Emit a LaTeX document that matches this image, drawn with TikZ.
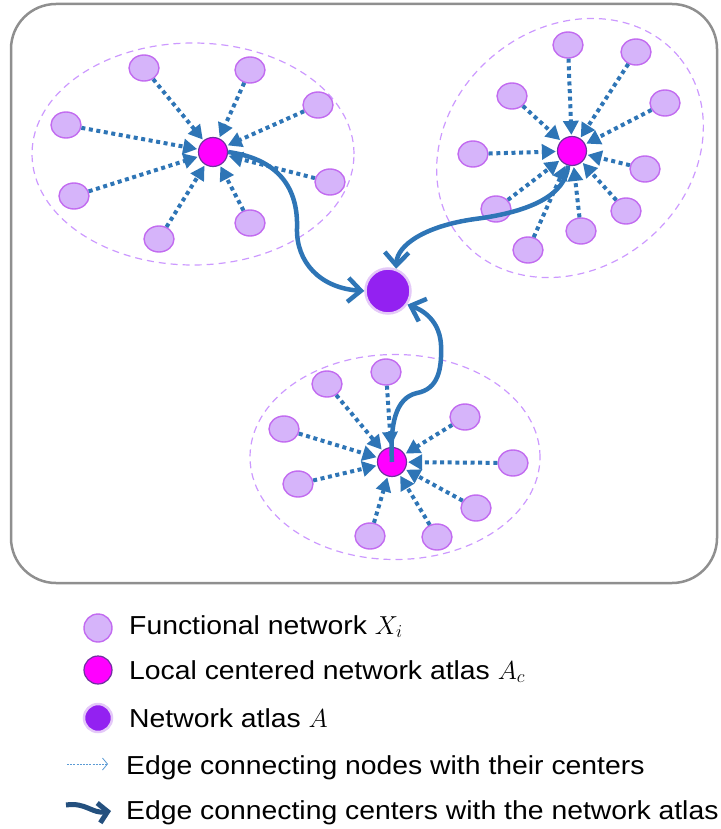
\RequirePackage{fix-cm}
\documentclass[tikz,border=0pt]{standalone}
\usepackage{fontspec}
\setmainfont{Liberation Sans}[FakeStretch=1.09]
\usetikzlibrary{arrows.meta,shapes.geometric}

\definecolor{edgeblue}{HTML}{2E75B6}
\definecolor{satfill}{HTML}{D6B4FA}
\definecolor{satline}{HTML}{C26BF0}
\definecolor{ctrfill}{HTML}{FF00FF}
\definecolor{ctrline}{HTML}{7030A0}
\definecolor{atlasfill}{HTML}{9321F1}
\definecolor{atlasline}{HTML}{E4C9F8}
\definecolor{ringline}{HTML}{CC99FF}
\definecolor{framegray}{HTML}{8F8F8F}
\definecolor{legnavy}{HTML}{24507E}
\definecolor{leglight}{HTML}{5B9BD5}

\begin{document}
\begin{tikzpicture}[x=1pt,y=-1pt,
  satnode/.style={ellipse,draw=satline,fill=satfill,line width=1.4pt,minimum width=30pt,minimum height=26pt,inner sep=0pt},
  ctrnode/.style={circle,draw=ctrline,fill=ctrfill,line width=1.2pt,minimum size=29pt,inner sep=0pt},
  atlasnode/.style={circle,draw=atlasline,fill=atlasfill,line width=2.5pt,minimum size=45pt,inner sep=0pt},
  ringnode/.style={ellipse,draw=ringline,line width=1.2pt,dash pattern=on 7pt off 5pt,inner sep=0pt},
  dotedge/.style={edgeblue,line width=4pt,dash pattern=on 4pt off 3.6pt,shorten >=1pt,-{Triangle[length=14pt,width=15pt]}},
  atlasedge/.style={edgeblue,line width=4.5pt,-{Straight Barb[length=13pt,width=24pt]}},
  legtext/.style={anchor=base west,inner sep=0pt,font=\fontsize{26}{30}\selectfont},
  legdot/.style={leglight,line width=0.8pt,dash pattern=on 2pt off 1.2pt,-{Straight Barb[length=5pt,width=12pt,line width=0.8pt]}},
  legbold/.style={legnavy,line width=5pt,-{Straight Barb[length=9pt,width=20pt]}}]

\useasboundingbox (0,0) rectangle (720,829);

\draw [draw=framegray,line width=2.5pt,rounded corners=45pt] (11,4) rectangle (717,583);


\node [ringnode,minimum width=322pt,minimum height=222pt] (net-ring-1) at (193,154){};
\node [ringnode,minimum width=284pt,minimum height=240pt,rotate=40] (net-ring-2) at (570,148){};
\node [ringnode,minimum width=290pt,minimum height=205pt] (net-ring-3) at (395,457){};

\node [atlasnode] (net-atlas) at (388,291){};



\node [ctrnode] (net-c1) at (213,152){};

\node [satnode] (net-x1-1) at (144,68){};
\draw [dotedge]   (net-x1-1) -- (net-c1);

\node [satnode] (net-x1-2) at (250,70){};
\draw [dotedge]   (net-x1-2) -- (net-c1);

\node [satnode] (net-x1-3) at (318,105){};
\draw [dotedge]   (net-x1-3) -- (net-c1);

\node [satnode] (net-x1-4) at (66,125){};
\draw [dotedge]   (net-x1-4) -- (net-c1);

\node [satnode] (net-x1-5) at (330,182){};
\draw [dotedge]   (net-x1-5) -- (net-c1);

\node [satnode] (net-x1-6) at (74,196){};
\draw [dotedge]   (net-x1-6) -- (net-c1);

\node [satnode] (net-x1-7) at (250,223){};
\draw [dotedge]   (net-x1-7) -- (net-c1);

\node [satnode] (net-x1-8) at (159,239){};
\draw [dotedge]   (net-x1-8) -- (net-c1);



\node [ctrnode] (net-c2) at (572,151){};

\node [satnode] (net-x2-1) at (568,45){};
\draw [dotedge]   (net-x2-1) -- (net-c2);

\node [satnode] (net-x2-2) at (636,52){};
\draw [dotedge]   (net-x2-2) -- (net-c2);

\node [satnode] (net-x2-3) at (512,96){};
\draw [dotedge]   (net-x2-3) -- (net-c2);

\node [satnode] (net-x2-4) at (665,103){};
\draw [dotedge]   (net-x2-4) -- (net-c2);

\node [satnode] (net-x2-5) at (473,154){};
\draw [dotedge]   (net-x2-5) -- (net-c2);

\node [satnode] (net-x2-6) at (645,169){};
\draw [dotedge]   (net-x2-6) -- (net-c2);

\node [satnode] (net-x2-7) at (496,209){};
\draw [dotedge]   (net-x2-7) -- (net-c2);

\node [satnode] (net-x2-8) at (626,211){};
\draw [dotedge]   (net-x2-8) -- (net-c2);

\node [satnode] (net-x2-9) at (581,231){};
\draw [dotedge]   (net-x2-9) -- (net-c2);

\node [satnode] (net-x2-10) at (528,250){};
\draw [dotedge]   (net-x2-10) -- (net-c2);



\node [ctrnode] (net-c3) at (392,462){};

\node [satnode] (net-x3-1) at (386,372){};
\draw [dotedge]   (net-x3-1) -- (net-c3);

\node [satnode] (net-x3-2) at (327,384){};
\draw [dotedge]   (net-x3-2) -- (net-c3);

\node [satnode] (net-x3-3) at (465,417){};
\draw [dotedge]   (net-x3-3) -- (net-c3);

\node [satnode] (net-x3-4) at (284,429){};
\draw [dotedge]   (net-x3-4) -- (net-c3);

\node [satnode] (net-x3-5) at (513,463){};
\draw [dotedge]   (net-x3-5) -- (net-c3);

\node [satnode] (net-x3-6) at (298,484){};
\draw [dotedge]   (net-x3-6) -- (net-c3);

\node [satnode] (net-x3-7) at (476,508){};
\draw [dotedge]   (net-x3-7) -- (net-c3);

\node [satnode] (net-x3-8) at (370,536){};
\draw [dotedge]   (net-x3-8) -- (net-c3);

\node [satnode] (net-x3-9) at (437,537){};
\draw [dotedge]   (net-x3-9) -- (net-c3);



\draw [atlasedge]   (net-c1.east) .. controls (285,160) and (298,195) .. (297,228) .. controls (296,262) and (320,288) .. (net-atlas.west);
\draw [atlasedge]   (net-c2.-105) .. controls (566,195) and (530,212) .. (475,219) .. controls (425,226) and (397,245) .. (net-atlas.70);
\draw [atlasedge]   (net-c3.center) .. controls (390,425) and (395,398) .. (417,393) .. controls (438,389) and (442,370) .. (441,345) .. controls (440,325) and (428,312) .. (net-atlas.-35);


%%%%%%%%%%%%%%%%%%%%%%%%%%%%%%%%%%%%%%%%%%%%%%%%%%%%%%%%%%%%%%%%%

\node [satnode,minimum width=28pt,minimum height=28pt] (leg-x) at (98,628){};
\node [legtext] (leg-x-text) at (129,634){Functional network $X_i$};

\node [ctrnode,minimum size=28pt] (leg-c) at (98,670){};
\node [legtext] (leg-c-text) at (129,679){Local centered network atlas $A_c$};

\node [atlasnode,minimum size=28pt] (leg-a) at (98,718){};
\node [legtext] (leg-a-text) at (129,727){Network atlas $A$};

\coordinate (leg-dot-start) at (67,764);
\coordinate (leg-dot-end) at (108,764);
\draw [legdot]   (leg-dot-start) -- (leg-dot-end);
\node [legtext] (leg-dot-text) at (126,774){Edge connecting nodes with their centers};

\coordinate (leg-bold-start) at (66,805);
\coordinate (leg-bold-end) at (111,811);
\draw [legbold]   (leg-bold-start) .. controls (86,802) and (92,814) .. (leg-bold-end);
\node [legtext] (leg-bold-text) at (126,819){Edge connecting centers with the network atlas};

\end{tikzpicture}
\end{document}
